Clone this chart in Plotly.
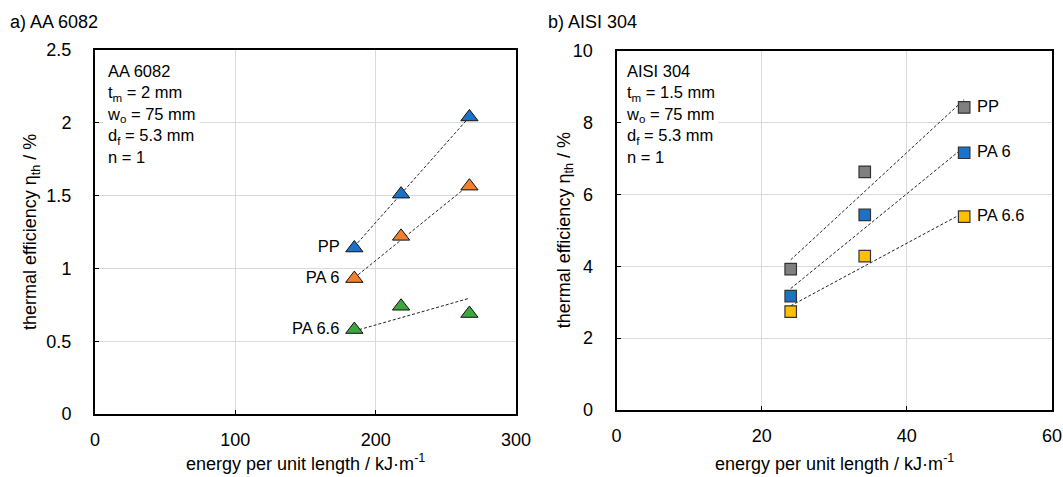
import plotly.graph_objects as go

# ---------------- data ----------------
series_names = ["PP", "PA 6", "PA 6.6"]

# a) AA 6082
aa_energy = [184.8, 218.1, 266.8]
aa_pp = [1.14, 1.51, 2.04]
aa_pa6 = [0.93, 1.22, 1.565]
aa_pa66 = [0.58, 0.74, 0.69]
aa_trend_start = [1.15, 0.935, 0.57]   # trend line value at first energy (PP, PA 6, PA 6.6)
aa_trend_end = [2.04, 1.575, 0.795]    # trend line value at last energy

# b) AISI 304
aisi_energy = [24.0, 34.2, 47.9]
aisi_pp = [3.92, 6.63, 8.42]
aisi_pa6 = [3.17, 5.43, 7.16]
aisi_pa66 = [2.74, 4.28, 5.38]
aisi_trend_start = [4.18, 3.38, 2.90]
aisi_trend_end = [8.64, 7.32, 5.50]

aa_ticks_x = [0, 100, 200, 300]
aa_ticks_y = [0, 0.5, 1, 1.5, 2, 2.5]
aisi_ticks_x = [0, 20, 40, 60]
aisi_ticks_y = [0, 2, 4, 6, 8, 10]

aa_colors = ["#1C72C6", "#F07F2E", "#3DA63D"]
aisi_colors = ["#808080", "#1C72C6", "#FFC000"]

W, H = 1063, 477
FONT = "Liberation Sans, Arial, sans-serif"
FS_TICK = 18
FS_TITLE = 18
FS_BOX = 16.5

fig = go.Figure()

# panel a
aa_vals = [aa_pp, aa_pa6, aa_pa66]
for i, name in enumerate(series_names):
    fig.add_trace(go.Scatter(
        x=[aa_energy[0], aa_energy[-1]], y=[aa_trend_start[i], aa_trend_end[i]],
        mode="lines", line=dict(color="#222", width=1, dash="3px,2px"),
        xaxis="x", yaxis="y", showlegend=False, hoverinfo="skip"))
for i, name in enumerate(series_names):
    fig.add_trace(go.Scatter(
        x=aa_energy, y=aa_vals[i], mode="markers+text",
        text=[name + " ", "", ""], textposition="middle left",
        textfont=dict(family=FONT, size=FS_BOX, color="#000"),
        marker=dict(symbol="triangle-up", size=15, color=aa_colors[i],
                    line=dict(color="#111", width=1)),
        xaxis="x", yaxis="y", showlegend=False, name=name))

# panel b
aisi_vals = [aisi_pp, aisi_pa6, aisi_pa66]
for i, name in enumerate(series_names):
    fig.add_trace(go.Scatter(
        x=[aisi_energy[0], aisi_energy[-1]], y=[aisi_trend_start[i], aisi_trend_end[i]],
        mode="lines", line=dict(color="#222", width=1, dash="3px,2px"),
        xaxis="x2", yaxis="y2", showlegend=False, hoverinfo="skip"))
for i, name in enumerate(series_names):
    fig.add_trace(go.Scatter(
        x=aisi_energy, y=aisi_vals[i], mode="markers+text",
        text=["", "", " " + name], textposition="middle right",
        textfont=dict(family=FONT, size=FS_BOX, color="#000"),
        marker=dict(symbol="square", size=11.5, color=aisi_colors[i],
                    line=dict(color="#333", width=1.2)),
        xaxis="x2", yaxis="y2", showlegend=False, name=name))

axis_common = dict(
    showline=True, linecolor="#000", linewidth=2, mirror=True,
    showgrid=True, gridcolor="#D9D9D9", gridwidth=1, zeroline=False,
    ticks="inside", ticklen=4, tickcolor="#000", tickwidth=1,
    tickfont=dict(family=FONT, size=FS_TICK, color="#000"),
    automargin=False,
)

ax_a = [95, 516, 50, 414]      # left, right, top, bottom (px)
ax_b = [616.5, 1052, 50.7, 410]

fig.update_layout(
    width=W, height=H,
    margin=dict(l=0, r=0, t=0, b=0),
    paper_bgcolor="white", plot_bgcolor="white",
    font=dict(family=FONT, size=FS_TICK, color="#000"),
    xaxis=dict(domain=[ax_a[0] / W, ax_a[1] / W], range=[0, 300], tickvals=aa_ticks_x,
               ticklabelstandoff=8, anchor="y", **axis_common),
    yaxis=dict(domain=[1 - ax_a[3] / H, 1 - ax_a[2] / H], range=[0, 2.5], tickvals=aa_ticks_y,
               ticklabelstandoff=18, anchor="x", **axis_common),
    xaxis2=dict(domain=[ax_b[0] / W, ax_b[1] / W], range=[0, 60], tickvals=aisi_ticks_x,
                ticklabelstandoff=8, anchor="y2", **axis_common),
    yaxis2=dict(domain=[1 - ax_b[3] / H, 1 - ax_b[2] / H], range=[0, 10], tickvals=aisi_ticks_y,
                ticklabelstandoff=18, anchor="x2", **axis_common),
)

xtitle = "energy per unit length / kJ·m<sup>-1</sup>"
ytitle = "thermal efficiency η<sub>th</sub> / %"


def ann(text, x, y, xanchor="center", yanchor="middle", angle=0, size=FS_TITLE, **kw):
    fig.add_annotation(text=text, xref="paper", yref="paper", x=x / W, y=1 - y / H,
                       xanchor=xanchor, yanchor=yanchor, textangle=angle, showarrow=False,
                       font=dict(family=FONT, size=size, color="#000"), **kw)


# axis titles
ann(xtitle, (ax_a[0] + ax_a[1]) / 2, 462)
ann(xtitle, (ax_b[0] + ax_b[1]) / 2, 462)
ann(ytitle, 31, (ax_a[2] + ax_a[3]) / 2, angle=-90)
ann(ytitle, 565, (ax_b[2] + ax_b[3]) / 2, angle=-90)

# panel titles
ann("a) AA 6082", 8, 22, xanchor="left")
ann("b) AISI 304", 546, 22, xanchor="left")

# parameter boxes
box_a = "AA 6082<br>t<sub>m</sub> = 2 mm<br>w<sub>o</sub> = 75 mm<br>d<sub>f</sub> = 5.3 mm<br>n = 1"
box_b = "AISI 304<br>t<sub>m</sub> = 1.5 mm<br>w<sub>o</sub> = 75 mm<br>d<sub>f</sub> = 5.3 mm<br>n = 1"
ann(box_a, 103, 58, xanchor="left", yanchor="top", size=FS_BOX, align="left",
    bgcolor="white", borderpad=3)
ann(box_b, 622, 58, xanchor="left", yanchor="top", size=FS_BOX, align="left",
    bgcolor="white", borderpad=3)

fig.write_html("out.html")
